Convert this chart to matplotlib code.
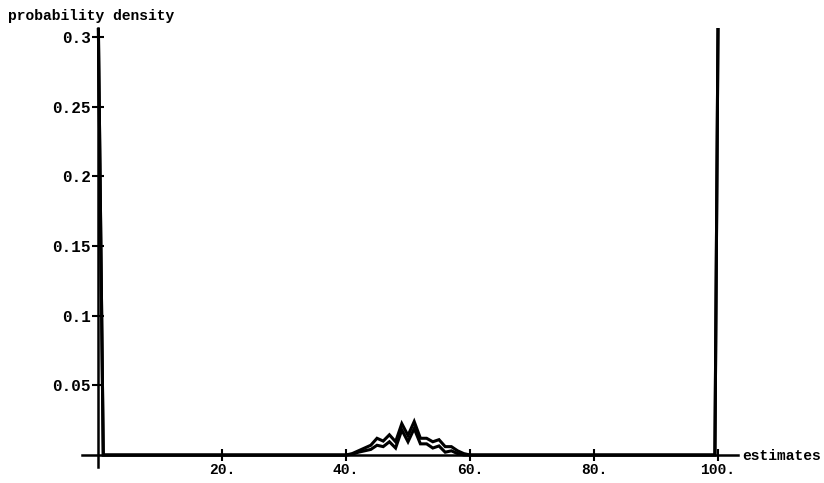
import matplotlib
matplotlib.use("Agg")
import matplotlib.pyplot as plt

# data
estimates = [0, 0.85, 39, 40, 41, 42, 43, 44, 45, 46, 47, 48, 49, 50, 51, 52, 53, 54, 55, 56, 57, 58, 59, 60, 61, 99.5, 100]
density_upper = [0.33, 0.0, 0.0, 0.0, 0.001, 0.003, 0.005, 0.007, 0.012, 0.010, 0.0145, 0.0095, 0.0225, 0.014, 0.024,
                 0.012, 0.012, 0.0095, 0.011, 0.006, 0.006, 0.003, 0.001, 0.0, 0.0, 0.0, 0.306]
density_lower = [0.33, 0.0, 0.0, 0.0, 0.0005, 0.002, 0.003, 0.004, 0.007, 0.006, 0.0095, 0.005, 0.018, 0.0095, 0.019,
                 0.008, 0.008, 0.005, 0.0065, 0.002, 0.003, 0.001, 0.0, 0.0, 0.0, 0.0, 0.306]
x_ticks = [20, 40, 60, 80, 100]
x_tick_labels = ["20.", "40.", "60.", "80.", "100."]
y_ticks = [0.05, 0.1, 0.15, 0.2, 0.25, 0.3]
y_tick_labels = ["0.05", "0.1", "0.15", "0.2", "0.25", "0.3"]

W, H = 824, 483
fig = plt.figure(figsize=(W / 100, H / 100), dpi=100)

# pixel mapping: x=0 -> 98px, 6.2 px/unit ; y=0 -> 455px
xmin, xmax = -2.6, 103.2
ymin, ymax = -0.0085, 0.3065
px_per_x = 6.2
px_per_y = 418 / 0.3
left_px = 98 + xmin * px_per_x
right_px = 98 + xmax * px_per_x
top_px = 455 - ymax * px_per_y
bot_px = 455 - ymin * px_per_y
ax = fig.add_axes([left_px / W, 1 - bot_px / H, (right_px - left_px) / W, (bot_px - top_px) / H])
ax.set_xlim(xmin, xmax)
ax.set_ylim(ymin, ymax)
ax.patch.set_alpha(0)

font = dict(family=["Liberation Mono", "DejaVu Sans Mono"], weight="bold", size=10.5)
yfont = dict(font, size=11.5)

ax.plot(estimates, density_upper, color="black", lw=2.2, clip_on=True, solid_joinstyle="miter")
ax.plot(estimates, density_lower, color="black", lw=2.2, clip_on=True, solid_joinstyle="miter")

for s in ["top", "right"]:
    ax.spines[s].set_visible(False)
ax.spines["left"].set_position(("data", 0))
ax.spines["bottom"].set_position(("data", 0))
ax.spines["left"].set_linewidth(1.8)
ax.spines["bottom"].set_linewidth(1.8)

ax.set_xticks(x_ticks)
ax.set_xticklabels(x_tick_labels, **font)
ax.set_yticks(y_ticks)
ax.set_yticklabels(y_tick_labels, **yfont)
ax.tick_params(axis="both", direction="inout", length=8, width=1.5, colors="black")
ax.tick_params(axis="x", pad=2)
ax.tick_params(axis="y", pad=1)

fig.text(8 / W, 1 - 16 / H, "probability density", ha="left", va="center", **font)
fig.text(742 / W, 1 - 456 / H, "estimates", ha="left", va="center", **font)
fig.savefig("out.png", dpi=100)
